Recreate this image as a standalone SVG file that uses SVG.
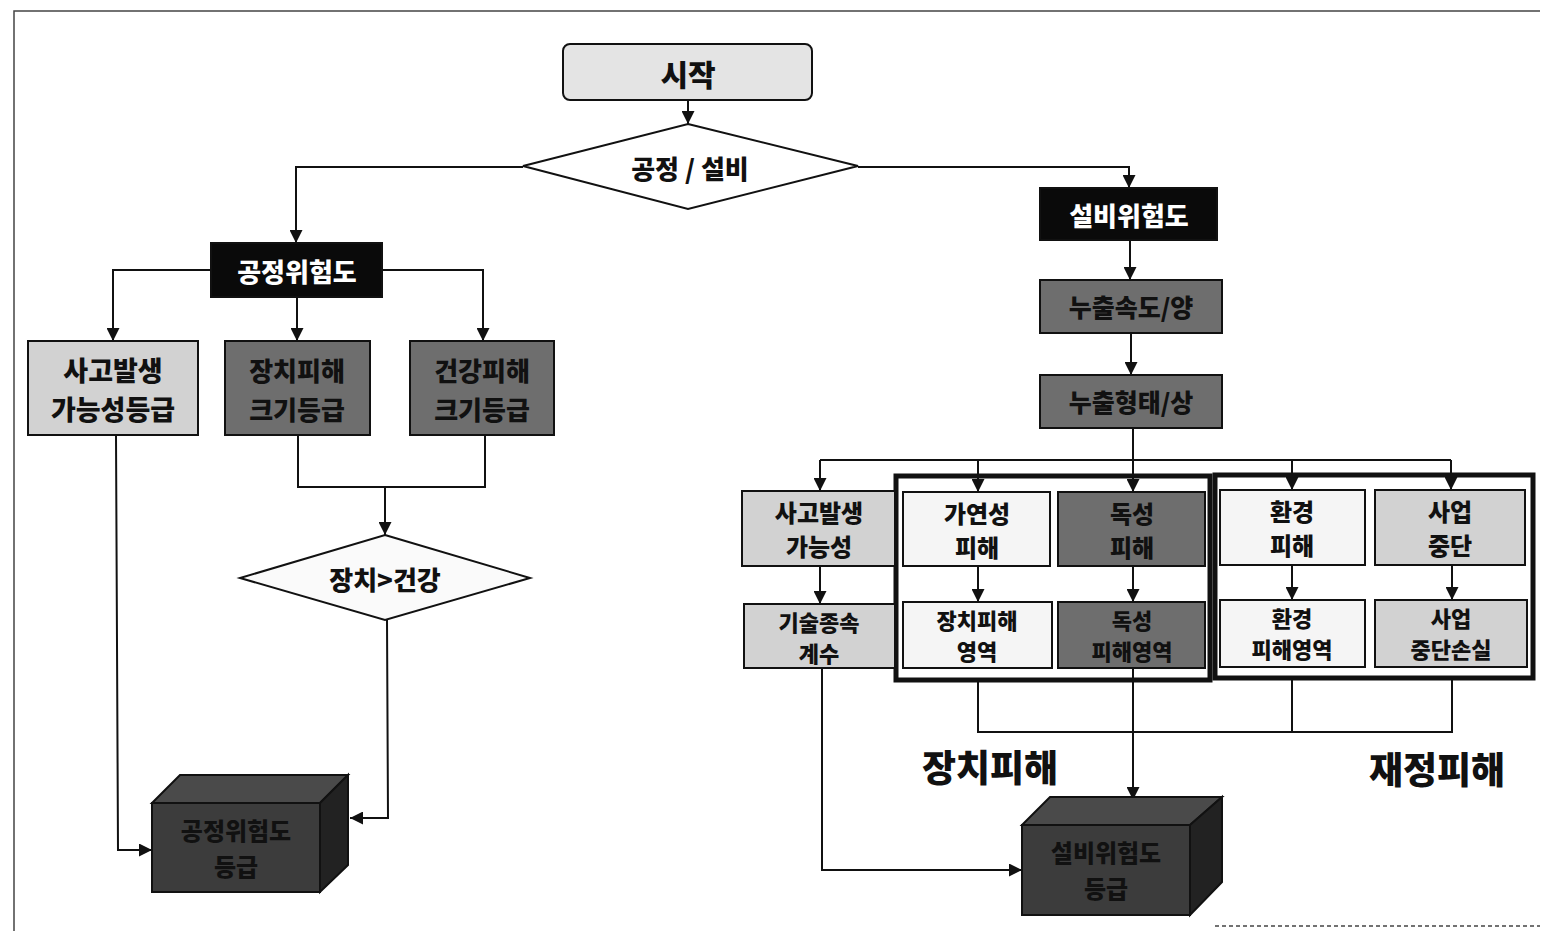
<svg xmlns="http://www.w3.org/2000/svg" width="1543" height="931" viewBox="0 0 1543 931">
<defs>
<style>
.t{font-family:"Noto Sans CJK KR","Noto Sans",sans-serif;font-weight:900;text-anchor:middle;dominant-baseline:central;fill:#111}
.w{fill:#fff}
.box{stroke:#111;stroke-width:2}
.lite{fill:#d2d2d2}
.dark{fill:#6e6e6e}
.pale{fill:#f5f5f5}
.blk{fill:#0a0a0a}
.c{fill:none;stroke:#111;stroke-width:2}
.grp{fill:none;stroke:#111;stroke-width:5}
</style>
<marker id="ar" viewBox="0 0 10 10" refX="10" refY="5" markerWidth="13" markerHeight="13" markerUnits="userSpaceOnUse" orient="auto">
<path d="M0,0 L10,5 L0,10 z" fill="#111"/>
</marker>
</defs>
<rect width="1543" height="931" fill="#fff"/>
<g id="frame" fill="none" stroke="#444" stroke-width="1.5">
<path d="M14,931 L14,11 L1540,11"/>
<path d="M1215,926 L1540,926" stroke-dasharray="4 3"/>
</g>

<g id="connectors">
<path class="c" d="M688,100 L688,124" marker-end="url(#ar)"/>
<path class="c" d="M523,167 L296,167 L296,243" marker-end="url(#ar)"/>
<path class="c" d="M858,167 L1129,167 L1129,188" marker-end="url(#ar)"/>
<path class="c" d="M211,270 L113,270 L113,341" marker-end="url(#ar)"/>
<path class="c" d="M297,297 L297,341" marker-end="url(#ar)"/>
<path class="c" d="M382,270 L483,270 L483,341" marker-end="url(#ar)"/>
<path class="c" d="M298,435 L298,487 L485,487 L485,435"/>
<path class="c" d="M385,487 L385,535" marker-end="url(#ar)"/>
<path class="c" d="M387,620 L388,818 L350,818" marker-end="url(#ar)"/>
<path class="c" d="M116,435 L118,850 L152,850" marker-end="url(#ar)"/>
<path class="c" d="M1130,240 L1130,280" marker-end="url(#ar)"/>
<path class="c" d="M1131,333 L1131,375" marker-end="url(#ar)"/>
<path class="c" d="M1133,428 L1133,492" marker-end="url(#ar)"/>
<path class="c" d="M820,460 L1451,460"/>
<path class="c" d="M820,460 L820,491" marker-end="url(#ar)"/>
<path class="c" d="M978,460 L978,492" marker-end="url(#ar)"/>
<path class="c" d="M1292,460 L1292,490" marker-end="url(#ar)"/>
<path class="c" d="M1451,460 L1451,490" marker-end="url(#ar)"/>
<path class="c" d="M820,566 L820,604" marker-end="url(#ar)"/>
<path class="c" d="M978,566 L978,602" marker-end="url(#ar)"/>
<path class="c" d="M1133,566 L1133,602" marker-end="url(#ar)"/>
<path class="c" d="M1292,565 L1292,600" marker-end="url(#ar)"/>
<path class="c" d="M1452,565 L1452,600" marker-end="url(#ar)"/>
<path class="c" d="M978,680 L978,732 L1452,732 L1452,678"/>
<path class="c" d="M1292,678 L1292,732"/>
<path class="c" d="M1133,668 L1133,800" marker-end="url(#ar)"/>
<path class="c" d="M822,668 L822,870 L1022,870" marker-end="url(#ar)"/>
</g>

<g id="start">
<rect class="box" x="563" y="44" width="249" height="56" rx="7" fill="#e4e4e4"/>
<text class="t" x="688" y="73" font-size="30">시작</text>
</g>
<g id="decision-process-equipment">
<polygon class="box" points="688,124 858,166 688,209 523,166" fill="#fff"/>
<text class="t" x="690" y="167" font-size="26">공정 / 설비</text>
</g>

<g id="process-risk">
<rect class="box blk" x="211" y="243" width="171" height="54"/>
<text class="t w" x="297" y="270" font-size="26">공정위험도</text>
</g>
<g id="accident-grade">
<rect class="box lite" x="28" y="341" width="170" height="94"/>
<text class="t" font-size="27"><tspan x="113" y="369">사고발생</tspan><tspan x="113" y="408">가능성등급</tspan></text>
</g>
<g id="equip-damage-grade">
<rect class="box dark" x="225" y="341" width="145" height="94"/>
<text class="t" font-size="26"><tspan x="297" y="369">장치피해</tspan><tspan x="297" y="408">크기등급</tspan></text>
</g>
<g id="health-damage-grade">
<rect class="box dark" x="410" y="341" width="144" height="94"/>
<text class="t" font-size="26"><tspan x="482" y="369">건강피해</tspan><tspan x="482" y="408">크기등급</tspan></text>
</g>
<g id="decision-equip-health">
<polygon class="box" points="385,535 530,578 385,620 240,578" fill="#fafafa"/>
<text class="t" x="385" y="578" font-size="26">장치&gt;건강</text>
</g>
<g id="process-cube">
<polygon points="152,803 180,775 348,775 320,803" fill="#4a4a4a" stroke="#111" stroke-width="2"/>
<polygon points="320,803 348,775 348,865 320,892" fill="#222" stroke="#111" stroke-width="2"/>
<rect x="152" y="803" width="168" height="89" fill="#3c3c3c" stroke="#111" stroke-width="2"/>
<text class="t" font-size="24" fill="#181818"><tspan x="236" y="829">공정위험도</tspan><tspan x="236" y="865">등급</tspan></text>
</g>

<g id="equipment-risk">
<rect class="box blk" x="1040" y="188" width="177" height="52"/>
<text class="t w" x="1129" y="214" font-size="26">설비위험도</text>
</g>
<g id="leak-rate">
<rect class="box dark" x="1040" y="280" width="182" height="53"/>
<text class="t" x="1131" y="306" font-size="25">누출속도/양</text>
</g>
<g id="leak-form">
<rect class="box dark" x="1040" y="375" width="182" height="53"/>
<text class="t" x="1131" y="401" font-size="25">누출형태/상</text>
</g>

<g id="group-equipment">
<rect class="grp" x="896" y="476" width="314" height="204"/>
</g>
<g id="group-finance">
<rect class="grp" x="1215" y="475" width="318" height="203"/>
</g>

<g id="accident-prob">
<rect class="box lite" x="742" y="491" width="153" height="75"/>
<text class="t" font-size="24"><tspan x="819" y="511">사고발생</tspan><tspan x="819" y="545">가능성</tspan></text>
</g>
<g id="flammable">
<rect class="box pale" x="903" y="492" width="147" height="74"/>
<text class="t" font-size="24"><tspan x="977" y="512">가연성</tspan><tspan x="977" y="546">피해</tspan></text>
</g>
<g id="toxic">
<rect class="box dark" x="1058" y="492" width="147" height="74"/>
<text class="t" font-size="24"><tspan x="1132" y="512">독성</tspan><tspan x="1132" y="546">피해</tspan></text>
</g>
<g id="environment">
<rect class="box pale" x="1220" y="490" width="145" height="75"/>
<text class="t" font-size="24"><tspan x="1292" y="510">환경</tspan><tspan x="1292" y="544">피해</tspan></text>
</g>
<g id="business-stop">
<rect class="box lite" x="1375" y="490" width="150" height="75"/>
<text class="t" font-size="24"><tspan x="1450" y="510">사업</tspan><tspan x="1450" y="544">중단</tspan></text>
</g>
<g id="tech-factor">
<rect class="box lite" x="744" y="604" width="151" height="64"/>
<text class="t" font-size="22"><tspan x="819" y="621">기술종속</tspan><tspan x="819" y="652">계수</tspan></text>
</g>
<g id="equip-area">
<rect class="box pale" x="903" y="602" width="149" height="66"/>
<text class="t" font-size="22"><tspan x="977" y="619">장치피해</tspan><tspan x="977" y="650">영역</tspan></text>
</g>
<g id="toxic-area">
<rect class="box dark" x="1058" y="602" width="147" height="66"/>
<text class="t" font-size="22"><tspan x="1132" y="619">독성</tspan><tspan x="1132" y="650">피해영역</tspan></text>
</g>
<g id="env-area">
<rect class="box pale" x="1220" y="600" width="145" height="67"/>
<text class="t" font-size="22"><tspan x="1292" y="617">환경</tspan><tspan x="1292" y="648">피해영역</tspan></text>
</g>
<g id="business-loss">
<rect class="box lite" x="1375" y="600" width="152" height="67"/>
<text class="t" font-size="22"><tspan x="1451" y="617">사업</tspan><tspan x="1451" y="648">중단손실</tspan></text>
</g>

<g id="label-equip-damage">
<text class="t" x="990" y="766" font-size="37">장치피해</text>
</g>
<g id="label-finance-damage">
<text class="t" x="1437" y="768" font-size="37">재정피해</text>
</g>

<g id="equipment-cube">
<polygon points="1022,825 1050,797 1222,797 1190,825" fill="#4a4a4a" stroke="#111" stroke-width="2"/>
<polygon points="1190,825 1222,797 1222,882 1190,915" fill="#222" stroke="#111" stroke-width="2"/>
<rect x="1022" y="825" width="168" height="90" fill="#3c3c3c" stroke="#111" stroke-width="2"/>
<text class="t" font-size="24" fill="#181818"><tspan x="1106" y="851">설비위험도</tspan><tspan x="1106" y="887">등급</tspan></text>
</g>
</svg>
